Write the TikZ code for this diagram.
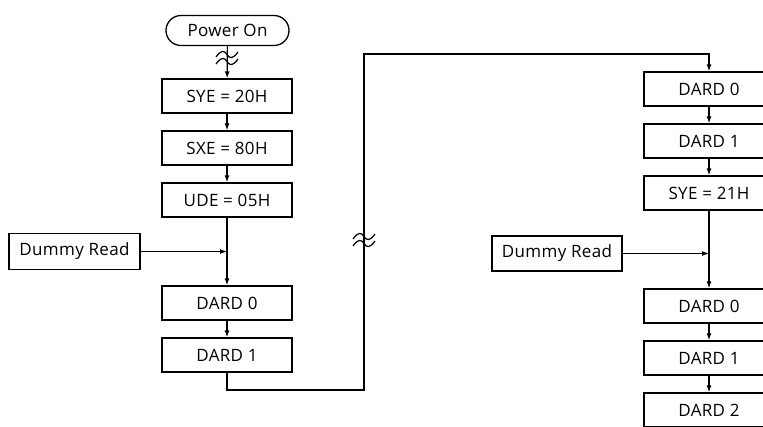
\documentclass[tikz,border=0pt]{standalone}
\usepackage{fontspec}
\setmainfont{Open Sans}[LetterSpace=2]
\usetikzlibrary{arrows.meta}
\begin{document}
\begin{tikzpicture}[x=1pt,y=-1pt,
  box/.style={draw,line width=1.3pt,minimum width=130pt,minimum height=34pt,inner sep=0pt,font=\fontsize{17}{20}\selectfont},
  startbox/.style={box,rounded corners=15pt,minimum width=123pt,minimum height=30pt},
  arr/.style={line width=1.2pt,-{Latex[length=7pt,width=5pt]}},
  wave/.style={line width=1.2pt},
  brk/.pic={
    \draw[wave] (-11,-1) .. controls (-6,-8) and (-3,-8) .. (0,-3.5) .. controls (3,1) and (6,1) .. (11,-6);
    \draw[wave] (-11,6) .. controls (-6,-1) and (-3,-1) .. (0,3.5) .. controls (3,8) and (6,8) .. (11,1);
  }]
\useasboundingbox (0,0) rectangle (763,426);
\clip (0,0) rectangle (763,426);
% left column
\node[startbox] (pon) at (227.5,30.5) {Power On};
\node[box] (sye) at (227,96) {SYE = 20H};
\node[box] (sxe) at (227,148) {SXE = 80H};
\node[box] (ude) at (227,200) {UDE = 05H};
\node[box,minimum width=131pt,minimum height=36pt] (dr1) at (74.5,251.5) {Dummy Read};
\node[box] (a0) at (227,303) {DARD 0};
\node[box] (a1) at (227,355) {DARD 1};
% right column
\node[box] (b0) at (709,89) {DARD 0};
\node[box] (b1) at (709,141) {DARD 1};
\node[box] (bs) at (709,193) {SYE = 21H};
\node[box,minimum height=35pt] (dr2) at (557,253.5) {Dummy Read};
\node[box] (b2) at (709,306) {DARD 0};
\node[box] (b3) at (709,358) {DARD 1};
\node[box] (b4) at (709,410) {DARD 2};
% connectors left
\draw[arr] (pon) -- (sye);
\pic at (227,58) {brk};
\draw[arr] (sye) -- (sxe);
\draw[arr] (sxe) -- (ude);
\draw[arr] (ude) -- (a0);
\draw[arr] (dr1.east) -- (dr1.east -| ude.south);
\draw[arr] (a0) -- (a1);
% long connector
\coordinate (c1) at (364,390);
\coordinate (c2) at (364,54);
\draw[arr] (a1.south) |- (c1) -- (c2) -| (b0.north);
\pic at (364,240) {brk};
% connectors right
\draw[arr] (b0) -- (b1);
\draw[arr] (b1) -- (bs);
\draw[arr] (bs) -- (b2);
\draw[arr] (dr2.east) -- (dr2.east -| bs.south);
\draw[arr] (b2) -- (b3);
\draw[arr] (b3) -- (b4);
\end{tikzpicture}
\end{document}
